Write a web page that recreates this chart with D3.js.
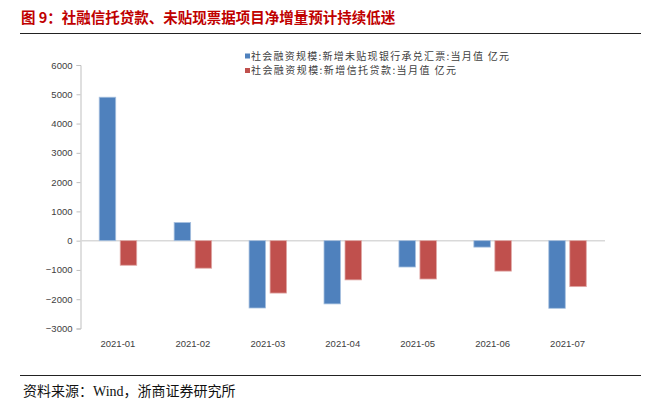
<!DOCTYPE html>
<html><head><meta charset="utf-8">
<script src="https://cdn.jsdelivr.net/npm/d3@7"></script>
<style>body{margin:0;background:#fff}svg{display:block}</style>
</head><body>
<svg id="c" width="663" height="403"></svg>
<script>
const categories = ["2021-01","2021-02","2021-03","2021-04","2021-05","2021-06","2021-07"];
const billValues = [4900, 620, -2300, -2160, -900, -220, -2310];
const trustValues = [-840, -940, -1790, -1340, -1310, -1040, -1570];
const yTicks = [6000,5000,4000,3000,2000,1000,0,-1000,-2000,-3000];
const seriesNames = ["社会融资规模:新增未贴现银行承兑汇票:当月值 亿元","社会融资规模:新增信托贷款:当月值 亿元"];
const colors = ["#4f81bd","#c0504d"];
const strokes = ["#a7c0df","#e0a8a6"];

const svg = d3.select("#c");
const font = "'Noto Sans CJK SC', 'Noto Sans', sans-serif";

// title
svg.append("text").attr("x",21).attr("y",23).attr("fill","#c00000")
  .attr("font-family",font).attr("font-weight","bold").attr("font-size",14.5)
  .text("图 9：社融信托贷款、未贴现票据项目净增量预计持续低迷");
svg.append("line").attr("x1",20).attr("x2",641).attr("y1",33.5).attr("y2",33.5).attr("stroke","#222").attr("stroke-width",1);

const x0 = 80.5, x1 = 605;
const x = d3.scaleBand().domain(categories).range([x0,x1]);
const y = d3.scaleLinear().domain([-3000,6000]).range([328.5,65]);

// y axis
const yAxis = d3.axisLeft(y).tickValues(yTicks).tickSize(4).tickPadding(4).tickFormat(d3.format("d"));
const gy = svg.append("g").attr("transform",`translate(${x0},0)`).call(yAxis);
gy.select(".domain").attr("stroke","#bfbfbf");
gy.selectAll(".tick line").attr("stroke","#bfbfbf");
gy.selectAll(".tick text").attr("fill","#404040").attr("font-family","'Liberation Sans', Arial, sans-serif").attr("font-size",9.5);

// zero line
svg.append("line").attr("x1",x0).attr("x2",x1).attr("y1",y(0)).attr("y2",y(0)).attr("stroke","#d9d9d9").attr("stroke-width",1.5);

// bars
const bw = 16.5, gap = 4.5;
[billValues, trustValues].forEach((vals,si)=>{
  svg.append("g").selectAll("rect").data(vals).join("rect")
    .attr("x",(d,i)=> x(categories[i]) + x.bandwidth()/2 + (si===0 ? -gap/2-bw : gap/2))
    .attr("width",bw)
    .attr("y",d=> y(Math.max(0,d)))
    .attr("height",d=> Math.abs(y(d)-y(0)))
    .attr("fill",colors[si]).attr("stroke",strokes[si]).attr("stroke-width",0.8);
});

// x labels
svg.append("g").selectAll("text").data(categories).join("text")
  .attr("x",d=> x(d)+x.bandwidth()/2).attr("y",347).attr("text-anchor","middle")
  .attr("fill","#404040").attr("font-family","'Liberation Sans', Arial, sans-serif").attr("font-size",9.5)
  .text(d=>d);

// legend
const legendWidths = [258, 205];
seriesNames.forEach((n,i)=>{
  const ly = 56 + i*14.5;
  svg.append("rect").attr("x",245).attr("y",ly-2.5).attr("width",5).attr("height",5).attr("fill",colors[i]);
  svg.append("text").attr("x",251).attr("y",ly+3.8).attr("fill","#404040")
    .attr("font-family",font).attr("font-size",10)
    .attr("textLength",legendWidths[i]).attr("lengthAdjust","spacing").text(n);
});

// source
svg.append("line").attr("x1",20).attr("x2",641).attr("y1",375.5).attr("y2",375.5).attr("stroke","#222").attr("stroke-width",1);
svg.append("text").attr("x",23).attr("y",396).attr("fill","#111")
  .attr("font-family","'Liberation Serif', 'Noto Sans CJK SC', serif").attr("font-size",14)
  .text("资料来源：Wind，浙商证券研究所");
</script>
</body></html>
